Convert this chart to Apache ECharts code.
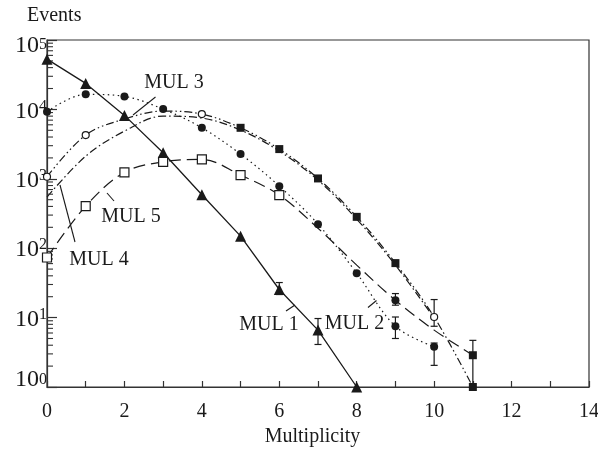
<!DOCTYPE html>
<html><head><meta charset="utf-8">
<script src="https://cdn.jsdelivr.net/npm/echarts@6/dist/echarts.min.js"></script>
<style>html,body{margin:0;padding:0;background:#fff}#c{width:598px;height:450px}</style>
</head><body><div id="c"></div>
<script>
// ---------- data ----------
const multiplicity = [0, 1, 2, 3, 4, 5, 6, 7, 8, 9, 10, 11];
const xTickLabels = [0, 2, 4, 6, 8, 10, 12, 14];
const yTickExponents = [0, 1, 2, 3, 4, 5];

// MUL 1: solid line, filled triangles
const mul1 = [53000, 23700, 8200, 2370, 590, 149, 25.4, 6.6, 1.0];
const mul1Err = [[6, 21.5, 32], [7, 4.1, 9.7]];

// MUL 2: dotted line, filled circles
const mul2 = [9250, 16500, 15400, 10100, 5430, 2270, 784, 222, 43.6, 7.5, 3.8];
const mul2Err = [[9, 5.0, 10.2], [10, 2.05, 4.3]];

// MUL 3: dash-dot-dot curve, open circles + filled squares
const mul3Fit = [1070, 4270, 7260, 9460, 8570, 5430, 2680, 1012, 283, 61, 10.2, 1.0];
const mul3OpenCircles = [1070, 4270, null, null, 8570, null, null, null, null, null, 10.2, null];
const mul3FilledSquares = [null, null, null, null, null, 5430, 2680, 1012, 283, 61, null, 1.0];
const mul3Err = [[10, 7.5, 18.2]];

// MUL 4: dash-dot curve
const mul4Fit = [545, 2120, 4870, 8010, 7500, 5040, 2510, 957, 262, 57, 9.8];

// MUL 5: long-dash curve, open squares + filled markers at the tail
const mul5Fit = [73.5, 404, 1236, 1758, 1903, 1130, 582, 194, 57, 17.8, 6.6, 2.87];
const mul5OpenSquares = [73.5, 404, 1236, 1758, 1903, 1130, 582, null, null, null, null, null];
const mul5FilledCircles = [null, null, null, null, null, null, null, null, null, 17.8, null, null];
const mul5FilledSquares = [null, null, null, null, null, null, null, null, null, null, null, 2.87];
const mul5Err = [[9, 15.1, 22.2], [11, 1.0, 4.7]];

// ---------- helpers ----------
const FONT = 'Liberation Serif';
const INK = '#1a1a1a';
const toPairs = arr => arr.map((v, i) => v == null ? null : [multiplicity[i], v]).filter(Boolean);

const minorTickValues = [];
for (let e = 0; e < 5; e++) for (let m = 2; m <= 9; m++) minorTickValues.push([0, m * Math.pow(10, e)]);

function errRender(params, api) {
  const x = api.value(0), lo = api.value(1), hi = api.value(2);
  const a = api.coord([x, lo]), b = api.coord([x, hi]);
  const w = 3.5, st = { stroke: INK, lineWidth: 1.2 };
  return { type: 'group', children: [
    { type: 'line', shape: { x1: a[0], y1: a[1], x2: b[0], y2: b[1] }, style: st },
    { type: 'line', shape: { x1: a[0] - w, y1: a[1], x2: a[0] + w, y2: a[1] }, style: st },
    { type: 'line', shape: { x1: b[0] - w, y1: b[1], x2: b[0] + w, y2: b[1] }, style: st }
  ]};
}
function errSeries(data) {
  return { type: 'custom', data: data, encode: { x: 0, y: [1, 2] }, renderItem: errRender, z: 4, silent: true };
}
function curve(name, data, dash, smooth) {
  return { name: name, type: 'line', data: toPairs(data), smooth: smooth, showSymbol: false, symbol: 'none',
    lineStyle: { color: INK, width: 1.2, type: dash }, z: 2, silent: true };
}
function markers(data, symbol, size, filled) {
  return { type: 'scatter', data: toPairs(data), symbol: symbol, symbolSize: size,
    itemStyle: { color: filled ? INK : '#fff', borderColor: INK, borderWidth: filled ? 0 : 1.2, opacity: 1 }, z: 5, silent: true };
}
const baseStyle = { fontFamily: FONT, fontSize: 24, color: INK, lineHeight: 30 };
const supStyle = { fontFamily: FONT, fontSize: 16, color: INK, verticalAlign: 'top', lineHeight: 16 };

const chart = echarts.init(document.getElementById('c'), null, { renderer: 'canvas' });
const option = {
  animation: false,
  backgroundColor: '#fff',
  grid: { left: 47, right: 9, top: 40, bottom: 63, outerBoundsMode: 'none', containLabel: false,
    show: true, borderColor: '#333', borderWidth: 1.2, backgroundColor: 'transparent' },
  xAxis: {
    type: 'value', min: 0, max: 14, interval: 1,
    name: 'Multiplicity', nameLocation: 'middle', nameGap: 37,
    nameTextStyle: { fontFamily: FONT, fontSize: 20, color: INK, padding: [0, 11, 0, 0] },
    axisLine: { lineStyle: { color: '#333', width: 1.2 } },
    axisTick: { inside: true, length: 6, lineStyle: { color: '#333', width: 1.2 } },
    axisLabel: { fontFamily: FONT, fontSize: 20, color: INK, margin: 15,
      formatter: v => xTickLabels.indexOf(v) >= 0 ? String(v) : '' },
    splitLine: { show: false }
  },
  yAxis: {
    type: 'log', logBase: 10, min: 1, max: 100000,
    axisLine: { show: true, lineStyle: { color: '#333', width: 1.2 } },
    axisTick: { show: true, inside: true, length: 10, lineStyle: { color: '#333', width: 1.2 } },
    axisLabel: {
      margin: 0, color: INK,
      formatter: v => {
        const e = Math.round(Math.log10(v));
        if (yTickExponents.indexOf(e) < 0) return '';
        const k = e === yTickExponents[yTickExponents.length - 1] ? 'T' : (e === yTickExponents[0] ? 'B' : 'M');
        return '{b' + k + '|10}{s' + k + '|' + e + '}';
      },
      rich: {
        bM: Object.assign({}, baseStyle, { padding: [4, 0, 0, 0] }),
        sM: Object.assign({}, supStyle, { padding: [4, 0, 0, 0] }),
        bT: Object.assign({}, baseStyle, { padding: [12, 0, 0, 0] }),
        sT: Object.assign({}, supStyle, { padding: [12, 0, 0, 0] }),
        bB: Object.assign({}, baseStyle, { padding: [0, 0, 14, 0] }),
        sB: Object.assign({}, supStyle, { padding: [0, 0, 0, 0] })
      }
    },
    splitLine: { show: false }
  },
  graphic: [
    { type: 'text', left: 27, top: 6, style: { text: 'Events', font: '20px ' + FONT, fill: INK } },
    { type: 'text', x: 174, y: 82.5, style: { text: 'MUL 3', font: '20px ' + FONT, fill: INK, textAlign: 'center', textVerticalAlign: 'middle' } },
    { type: 'text', x: 131, y: 217, style: { text: 'MUL 5', font: '20px ' + FONT, fill: INK, textAlign: 'center', textVerticalAlign: 'middle' } },
    { type: 'text', x: 99, y: 260, style: { text: 'MUL 4', font: '20px ' + FONT, fill: INK, textAlign: 'center', textVerticalAlign: 'middle' } },
    { type: 'text', x: 269, y: 325, style: { text: 'MUL 1', font: '20px ' + FONT, fill: INK, textAlign: 'center', textVerticalAlign: 'middle' } },
    { type: 'text', x: 354.5, y: 323.5, style: { text: 'MUL 2', font: '20px ' + FONT, fill: INK, textAlign: 'center', textVerticalAlign: 'middle' } },
    { type: 'line', shape: { x1: 155.5, y1: 97, x2: 133, y2: 115 }, style: { stroke: INK, lineWidth: 1.1 } },
    { type: 'line', shape: { x1: 107, y1: 193, x2: 114, y2: 201 }, style: { stroke: INK, lineWidth: 1.1 } },
    { type: 'line', shape: { x1: 60, y1: 185, x2: 75, y2: 242 }, style: { stroke: INK, lineWidth: 1.1 } },
    { type: 'line', shape: { x1: 286, y1: 311, x2: 295, y2: 305 }, style: { stroke: INK, lineWidth: 1.1 } },
    { type: 'line', shape: { x1: 368, y1: 307.5, x2: 376.5, y2: 300.5 }, style: { stroke: INK, lineWidth: 1.1 } }
  ],
  series: [
    // minor log ticks on the y axis
    { type: 'custom', data: minorTickValues, encode: { x: 0, y: 1 }, silent: true, z: 3,
      renderItem: (p, api) => { const c = api.coord([api.value(0), api.value(1)]);
        return { type: 'line', shape: { x1: c[0], y1: c[1], x2: c[0] + 6, y2: c[1] }, style: { stroke: '#333', lineWidth: 1.1 } }; } },
    // curves
    curve('MUL 3', mul3Fit, [8, 3, 1.5, 3, 1.5, 3], 0.35),
    curve('MUL 4', mul4Fit, [8, 3, 1.5, 3], 0.35),
    curve('MUL 5', mul5Fit, [12, 6], 0.35),
    { name: 'MUL 2', type: 'line', data: toPairs(mul2), smooth: 0.35, symbol: 'circle', symbolSize: 8,
      itemStyle: { color: INK }, lineStyle: { color: INK, width: 1.2, type: [1.5, 3.5] }, z: 3, silent: true },
    { name: 'MUL 1', type: 'line', data: toPairs(mul1), smooth: false, symbol: 'triangle', symbolSize: 11,
      itemStyle: { color: INK }, lineStyle: { color: INK, width: 1.3, type: 'solid' }, z: 3, silent: true },
    // error bars
    errSeries(mul1Err), errSeries(mul2Err), errSeries(mul3Err), errSeries(mul5Err),
    // markers
    markers(mul3OpenCircles, 'circle', 7, false),
    markers(mul3FilledSquares, 'rect', 8, true),
    markers(mul5OpenSquares, 'rect', 9, false),
    markers(mul5FilledCircles, 'circle', 8, true),
    markers(mul5FilledSquares, 'rect', 8, true)
  ]
};
chart.setOption(option);
</script>
</body></html>
